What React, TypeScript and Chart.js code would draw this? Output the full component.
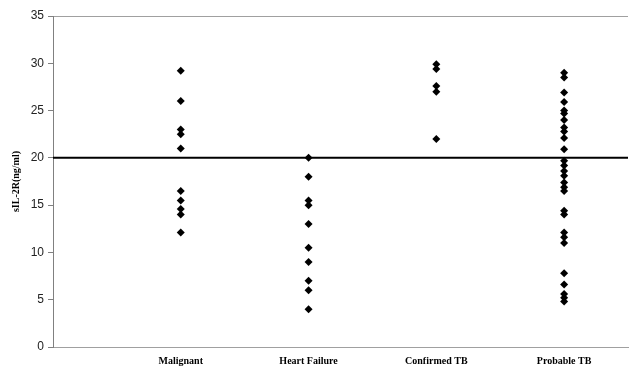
import React, { useEffect, useRef } from "react";
import { Chart, registerables } from "chart.js";

Chart.register(...registerables);

const categories = ["Malignant", "Heart Failure", "Confirmed TB", "Probable TB"];
const malignant = [29.2, 26.0, 23.0, 22.5, 21.0, 16.5, 15.5, 14.6, 14.0, 12.1];
const heartFailure = [20.0, 18.0, 15.5, 15.0, 13.0, 10.5, 9.0, 7.0, 6.0, 4.0];
const confirmedTB = [29.9, 29.4, 27.6, 27.0, 22.0];
const probableTB = [
  29.0, 28.5, 26.9, 25.9, 25.0, 24.7, 24.0, 23.2, 22.8, 22.1, 20.9, 19.7, 19.2, 18.6,
  18.1, 17.4, 16.9, 16.5, 14.4, 14.0, 12.1, 11.6, 11.0, 7.8, 6.6, 5.6, 5.2, 4.8,
];
const cutoff = 20;
const yTicks = [0, 5, 10, 15, 20, 25, 30, 35];
const yTitle = "sIL-2R(ng/ml)";

const groups = [malignant, heartFailure, confirmedTB, probableTB];

export default function App() {
  const ref = useRef<HTMLCanvasElement | null>(null);
  useEffect(() => {
    document.body.style.margin = "0";
    const ctx = ref.current!;
    const xMax = 4.5;
    const points = groups.flatMap((g, i) => g.map((v) => ({ x: i + 1, y: v })));
    const chart = new Chart(ctx, {
      type: "scatter",
      data: {
        datasets: [
          {
            type: "line",
            data: [
              { x: 0, y: cutoff },
              { x: xMax, y: cutoff },
            ],
            borderColor: "#000",
            borderWidth: 2,
            pointRadius: 0,
            fill: false,
          } as any,
          {
            data: points,
            pointStyle: "rectRot",
            pointRadius: 4,
            backgroundColor: "#000",
            borderColor: "#000",
            borderWidth: 0,
          },
        ],
      },
      options: {
        animation: false,
        responsive: false,
        maintainAspectRatio: false,
        layout: { padding: { top: 16, right: 0, left: 0, bottom: 0 } },
        plugins: { legend: { display: false }, tooltip: { enabled: false } },
        scales: {
          x: {
            type: "linear",
            min: 0,
            max: xMax,
            afterBuildTicks: (s: any) => {
              s.ticks = categories.map((_, i) => ({ value: i + 1 }));
            },
            afterFit: (s: any) => {
              s.height = 20;
            },
            ticks: {
              callback: (v: any) => categories[Number(v) - 1] ?? "",
              font: { family: "Liberation Serif", size: 10, weight: "bold" },
              color: "#000",
              padding: 8,
              maxRotation: 0,
              autoSkip: false,
            },
            grid: { display: false, drawTicks: false },
            border: { display: true, color: "#a0a0a0", width: 1 },
          },
          y: {
            min: 0,
            max: 35,
            afterBuildTicks: (s: any) => {
              s.ticks = yTicks.map((v) => ({ value: v }));
            },
            afterFit: (s: any) => {
              s.width = 53;
            },
            ticks: {
              font: { family: "Liberation Sans", size: 12 },
              color: "#222",
              padding: 4,
            },
            title: {
              display: true,
              text: yTitle,
              font: { family: "Liberation Serif", size: 10, weight: "bold" },
              color: "#000",
              padding: { top: 10, bottom: 0 },
            },
            grid: {
              color: (c: any) => (c.tick && c.tick.value === 35 ? "#a0a0a0" : "rgba(0,0,0,0)"),
              tickColor: "#808080",
              tickLength: 5,
              drawTicks: true,
            },
            border: { display: true, color: "#808080", width: 1 },
          },
        },
      },
    });
    return () => chart.destroy();
  }, []);
  return (
    <div style={{ position: "fixed", left: 0, top: 0, width: 632, height: 367, background: "#fff" }}>
      <canvas ref={ref} width={632} height={367} style={{ width: 632, height: 367 }} />
    </div>
  );
}
